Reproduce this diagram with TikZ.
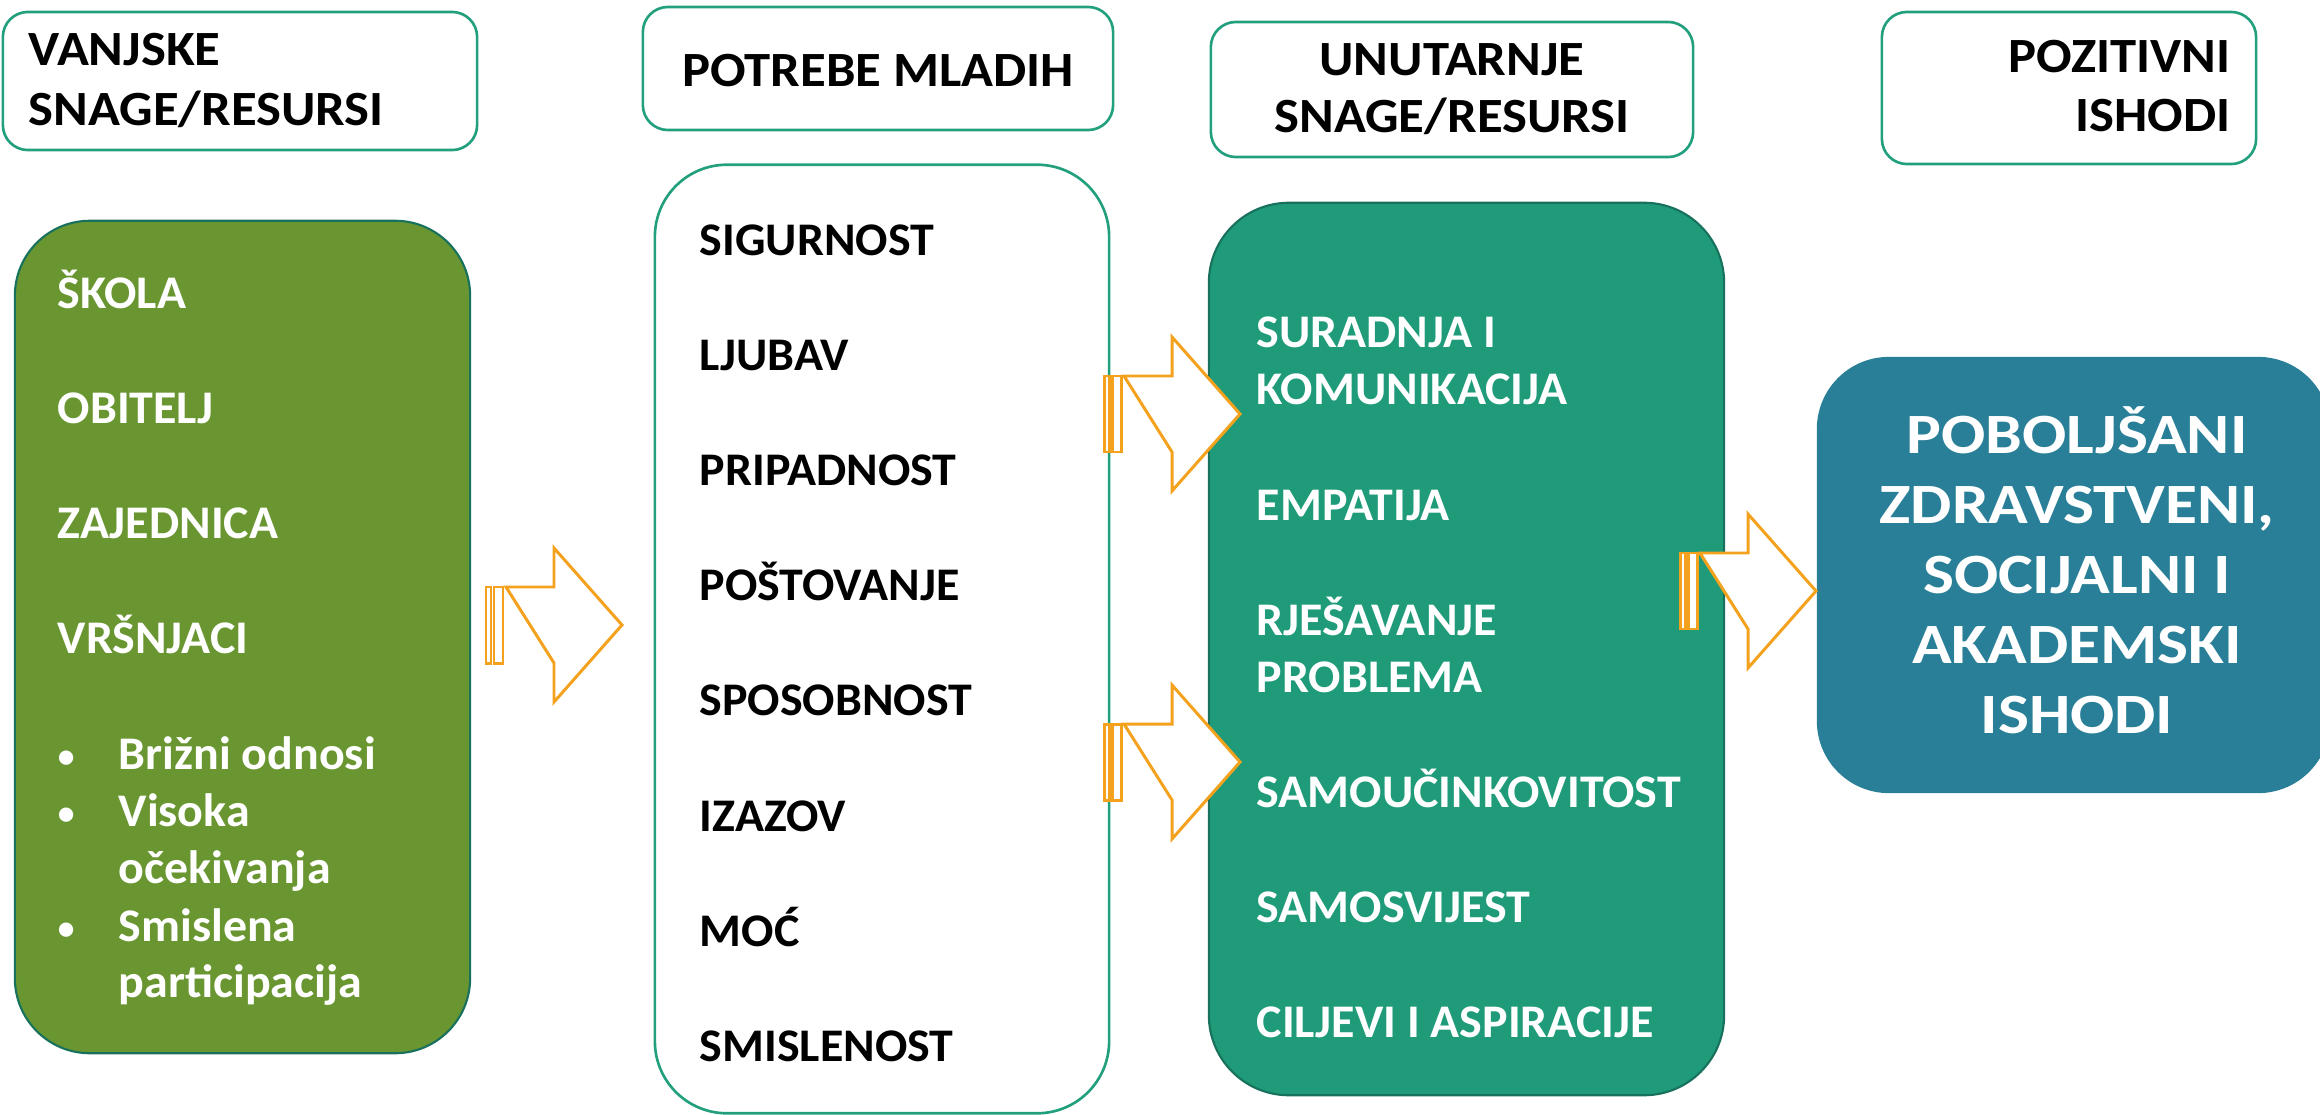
\documentclass[tikz,border=0pt]{standalone}
\usepackage{fontspec}
\setmainfont{Carlito}
\newfontfamily\itemfont{Carlito}[FakeStretch=1.025]
\newfontfamily\headfont{Carlito}[FakeStretch=1.07]
\newfontfamily\outfont{Carlito}[FakeStretch=1.15]
\usetikzlibrary{positioning}

\definecolor{extgreen}{HTML}{6A9632}
\definecolor{intteal}{HTML}{1F9B7A}
\definecolor{outblue}{HTML}{287F97}
\definecolor{rimteal}{HTML}{22A07E}
\definecolor{darkrim}{HTML}{18715C}
\definecolor{arroworange}{HTML}{F4A21E}

\tikzset{
  headbox/.style={draw=rimteal, line width=0.75pt, rounded corners=0.25cm, fill=white},
  bigbox/.style={line width=0.6pt},
  headtext/.style={inner sep=0pt, font=\headfont\bfseries\fontsize{14}{17}\selectfont},
  item/.style={anchor=base west, inner sep=0pt, font=\itemfont\bfseries\fontsize{13.3}{16}\selectfont},
  arrowline/.style={draw=arroworange, fill=white, line width=0.85pt, miter limit=10},
  stripedarrow/.pic={
    \draw[arrowline] (-136,-38) rectangle (-131,38);
    \draw[arrowline] (-128,-38) rectangle (-119,38);
    \draw[arrowline] (-116,-38) -- (-68,-38) -- (-68,-77) -- (0,0)
      -- (-68,77) -- (-68,38) -- cycle;
  }
}

\begin{document}
\begin{tikzpicture}[x=0.01cm, y=-0.01cm]
  \useasboundingbox (0,0) rectangle (2320,1115);

  % headers
  \node[headbox, minimum width=4.74cm, minimum height=1.38cm] (hext) at (240,81) {};
  \node[headbox, minimum width=4.70cm, minimum height=1.23cm] (hneed) at (878,68.5) {};
  \node[headbox, minimum width=4.82cm, minimum height=1.35cm] (hint) at (1452,89.5) {};
  \node[headbox, minimum width=3.74cm, minimum height=1.52cm] (hout) at (2069,88) {};

  \node[headtext, anchor=base west] (hext1) at (28,65) {VANJSKE};
  \node[headtext, anchor=base west] (hext2) at (28,125) {SNAGE/RESURSI};
  \node[headtext, anchor=base] (hneed1) at (878,86) {POTREBE MLADIH};
  \node[headtext, anchor=base] (hint1) at (1452,75) {UNUTARNJE};
  \node[headtext, anchor=base] (hint2) at (1452,132) {SNAGE/RESURSI};
  \node[headtext, anchor=base east] (hout1) at (2231,72) {POZITIVNI};
  \node[headtext, anchor=base east] (hout2) at (2231,131) {ISHODI};

  % main boxes
  \node[bigbox, draw=darkrim, fill=extgreen, rounded corners=0.75cm,
    minimum width=4.55cm, minimum height=8.32cm] (ext) at (242.5,637) {};
  \node[bigbox, draw=rimteal, line width=0.75pt, fill=white, rounded corners=0.72cm,
    minimum width=4.54cm, minimum height=9.48cm] (need) at (882,639) {};
  \node[bigbox, draw=darkrim, fill=intteal, rounded corners=0.8cm,
    minimum width=5.15cm, minimum height=8.92cm] (int) at (1466.5,649) {};
  \node[bigbox, fill=outblue, rounded corners=0.72cm,
    minimum width=5.13cm, minimum height=4.36cm] (out) at (2073.5,575) {};

  % external resources
  \foreach \txt [count=\i] in {ŠKOLA, OBITELJ, ZAJEDNICA, VRŠNJACI}
    \node[item, text=white] (ext\i) at (57,{308+115*(\i-1)}) {\txt};
  \foreach \y in {769, 826, 941}
    \node[item, anchor=base, text=white, font=\fontsize{11.5}{14}\selectfont] at (67,\y) {•};
  \node[item, text=white] (care) at (118,769) {Brižni odnosi};
  \node[item, text=white] (high1) at (118,826) {Visoka};
  \node[item, text=white] (high2) at (118,883) {očekivanja};
  \node[item, text=white] (part1) at (118,941) {Smislena};
  \node[item, text=white] (part2) at (118,997) {participacija};

  % needs
  \foreach \txt [count=\i] in {SIGURNOST, LJUBAV, PRIPADNOST, POŠTOVANJE,
      SPOSOBNOST, IZAZOV, MOĆ, SMISLENOST}
    \node[item] (need\i) at (699,{255+115.2*(\i-1)}) {\txt};

  % internal resources
  \foreach \txt/\y [count=\i] in {SURADNJA I/347, KOMUNIKACIJA/404, EMPATIJA/520,
      RJEŠAVANJE/635, PROBLEMA/692, SAMOUČINKOVITOST/807, SAMOSVIJEST/922,
      CILJEVI I ASPIRACIJE/1037}
    \node[item, text=white] (int\i) at (1256,\y) {\txt};

  % outcomes
  \foreach \txt [count=\i] in {POBOLJŠANI, {ZDRAVSTVENI,}, SOCIJALNI I, AKADEMSKI, ISHODI}
    \node[inner sep=0pt, anchor=base, text=white, font=\outfont\bfseries\fontsize{16.2}{19}\selectfont]
      (out\i) at (2077,{453+70*(\i-1)}) {\txt};

  % arrows
  \pic at (622,625) {stripedarrow};
  \pic at (1240,414) {stripedarrow};
  \pic at (1240,762) {stripedarrow};
  \pic at (1816,591) {stripedarrow};
\end{tikzpicture}
\end{document}
